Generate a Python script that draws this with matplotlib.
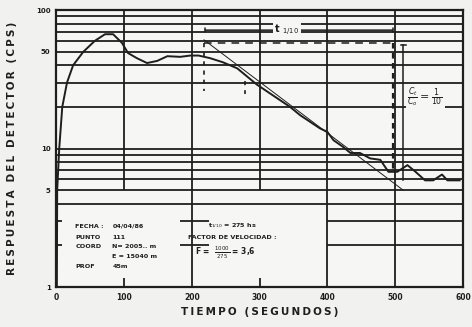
import matplotlib
matplotlib.use("Agg")
import matplotlib.pyplot as plt

# curva medida (tiempo en s, respuesta en cps)
t = [1, 1.5, 4.5, 9, 16, 25, 40, 57, 72, 84, 97, 106, 119, 134, 149, 164, 183, 198,
     210, 227, 246, 267, 296, 345, 360, 389, 400, 409, 423, 434, 448, 463, 478, 490,
     503, 518, 530, 544, 556, 569, 577, 595]
cps = [1, 5, 10, 20, 30, 40, 50, 60, 67, 67, 58, 49, 45, 41.5, 43, 46.5, 46, 47,
       47, 45, 42, 38, 29, 20, 17.4, 14, 13.2, 11.5, 10.3, 9.3, 9.3, 8.5, 8.3, 6.8,
       6.8, 7.6, 6.8, 5.9, 5.9, 6.5, 5.9, 5.9]

# recta de ajuste
fit_t = [218, 512]
fit_c = [61, 5.0]

xticks = [0, 100, 200, 300, 400, 500, 600]
yticks = [1, 5, 10, 50, 100]
ylabels = ["1", "5", "10", "50", "100"]

ink = "#1e1e1e"
fig = plt.figure(figsize=(4.72, 3.27), dpi=100, facecolor="#f1f1ef")
ax = fig.add_axes([0.119, 0.122, 0.862, 0.847])
ax.set_facecolor("#f6f6f4")
ax.set_yscale("log")
ax.set_xlim(0, 600)
ax.set_ylim(1, 100)

# reticula
full_h = [4, 5, 6, 7, 8, 9, 10, 20, 30, 40, 50, 60, 70, 80, 90]
ax.hlines(full_h, 0, 600, color=ink, lw=1.3)
ax.hlines([2, 3], 400, 600, color=ink, lw=1.3)
ax.hlines([2, 3], 183, 225, color=ink, lw=1.3)
ax.hlines([2, 3], 0, 8, color=ink, lw=1.3)
ax.vlines([200, 400, 500], 1, 100, color=ink, lw=1.3)
ax.vlines([100, 300], 5, 100, color=ink, lw=1.3)
ax.vlines([100, 300], 1, 1.17, color=ink, lw=1.3)
for s in ax.spines.values():
    s.set_color(ink)
    s.set_linewidth(1.6)

ax.plot(t, cps, color=ink, lw=1.4)
ax.plot(fit_t, fit_c, color=ink, lw=0.7)

# anotaciones
ax.annotate("", xy=(220, 71.7), xytext=(496, 71.7),
            arrowprops=dict(arrowstyle="|-|,widthA=0.15,widthB=0.15", color=ink, lw=1.1,
                            shrinkA=0, shrinkB=0))
ax.text(340, 71.7, r"t $_{1/10}$", ha="center", va="center", fontsize=7,
        fontweight="bold", color=ink, bbox=dict(fc="#f6f6f4", ec="none", pad=1))
ax.plot([218, 496], [57.8, 57.8], color=ink, lw=1.1, ls=(0, (5, 4)))
ax.plot([496, 496], [57.8, 6.8], color=ink, lw=1.6, ls=(0, (2.5, 2)))
ax.plot([218, 218], [57.8, 26], color=ink, lw=1.2, ls=(0, (2.5, 3)))
ax.plot([279, 279], [31, 25], color=ink, lw=1.2, ls=(0, (2.5, 3)))
ax.plot([512, 512], [56, 5.9], color=ink, lw=1.1)
ax.plot([508, 516], [56, 56], color=ink, lw=1.1)
ax.text(518, 23.5, r"$\frac{C_t}{C_o}=\frac{1}{10}$", ha="left", va="center",
        fontsize=8, color=ink, bbox=dict(fc="#f6f6f4", ec="none", pad=1))

fs = 4.6
left = [("FECHA :", "04/04/86", 2.75), ("PUNTO", "111", 2.3), ("COORD", "N= 2005.. m", 1.95),
        ("", "E = 15040 m", 1.65), ("PROF", "45m", 1.42)]
for a, b, yy in left:
    ax.text(28, yy, a, fontsize=fs, fontweight="bold", color=ink, va="center")
    ax.text(83, yy, b, fontsize=fs, fontweight="bold", color=ink, va="center")
ax.text(260, 2.75, r"t$_{1/10}$ = 275 hs", fontsize=fs, fontweight="bold",
        color=ink, ha="center", va="center")
ax.text(260, 2.3, "FACTOR DE VELOCIDAD :", fontsize=fs, fontweight="bold",
        color=ink, ha="center", va="center")
ax.text(250, 1.77, r"F =  $\frac{1000}{275}$ = 3,6", fontsize=5.5, fontweight="bold",
        color=ink, ha="center", va="center")

ax.set_xticks(xticks)
ax.set_xticklabels([str(v) for v in xticks], fontsize=5.5, fontweight="bold", color=ink)
ax.set_yticks(yticks)
ax.set_yticklabels(ylabels, fontsize=5, fontweight="bold", color=ink)
ax.minorticks_off()
ax.tick_params(length=0, pad=4)

ax.set_xlabel("\u2009".join("TIEMPO (SEGUNDOS)"), fontsize=7.5, fontweight="bold",
              color=ink, labelpad=4)
ax.set_ylabel("\u2009".join("RESPUESTA DEL DETECTOR (CPS)"), fontsize=7.5,
              fontweight="bold", color=ink, labelpad=14)

fig.savefig("out.png", dpi=100, facecolor=fig.get_facecolor())
